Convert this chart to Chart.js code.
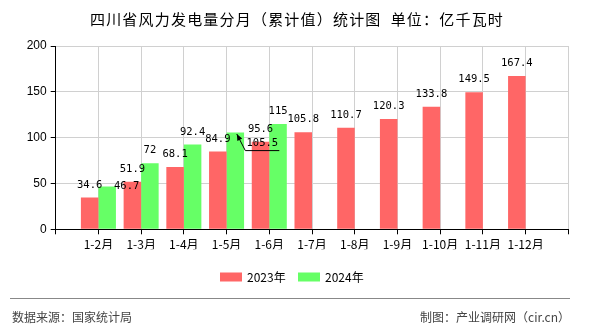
<!DOCTYPE html>
<html>
<head>
<meta charset="utf-8">
<script src="https://cdn.jsdelivr.net/npm/chart.js@4.4.1/dist/chart.umd.min.js"></script>
<style>
  html, body { margin: 0; padding: 0; background: #fff; }
  #wrap { width: 590px; height: 330px; position: relative; }
</style>
</head>
<body>
<div id="wrap"><canvas id="myChart" width="590" height="330"></canvas></div>
<script>
var titleText = '四川省风力发电量分月（累计值）统计图  单位：亿千瓦时';
var sourceText = '数据来源：国家统计局';
var makerText = '制图：产业调研网（cir.cn）';

// blank slots at both ends so each group sits on a grid line
var months = ['', '1-2月', '1-3月', '1-4月', '1-5月', '1-6月', '1-7月', '1-8月', '1-9月', '1-10月', '1-11月', '1-12月', ''];
var values2023 = [null, 34.6, 51.9, 68.1, 84.9, 95.6, 105.8, 110.7, 120.3, 133.8, 149.5, 167.4, null];
var values2024 = [null, 46.7, 72, 92.4, 105.5, 115, null, null, null, null, null, null, null];
var seriesNames = ['2023年', '2024年'];
var seriesColors = ['#ff6666', '#66ff66'];
var yTicks = [0, 50, 100, 150, 200];

var labelFont = '10.5px "DejaVu Sans Mono"';

// value labels above the bars, two of them moved aside
var valueLabels = {
  id: 'valueLabels',
  afterDatasetsDraw: function(chart){
    var ctx = chart.ctx;
    ctx.save();
    ctx.font = labelFont;
    ctx.fillStyle = '#000';
    ctx.textAlign = 'center';
    ctx.textBaseline = 'middle';
    chart.data.datasets.forEach(function(ds, di){
      var meta = chart.getDatasetMeta(di);
      meta.data.forEach(function(bar, i){
        var v = ds.data[i];
        if(v === null || v === undefined) return;
        var txt = String(v);
        if(di === 1 && i === 1){
          ctx.fillText(txt, bar.x + 19.5, bar.y);
        } else if(di === 1 && i === 4){
          var sx = bar.x + 1.5, sy = bar.y + 1.5;
          var ex = bar.x + 10, ey = bar.y + 18;
          ctx.strokeStyle = '#000';
          ctx.lineWidth = 1;
          ctx.beginPath();
          ctx.moveTo(sx, sy);
          ctx.lineTo(ex, ey);
          ctx.lineTo(bar.x + 44, ey);
          ctx.stroke();
          // arrow head
          var a = Math.atan2(sy - ey, sx - ex);
          ctx.beginPath();
          ctx.moveTo(sx, sy);
          ctx.lineTo(sx - 7 * Math.cos(a - 0.4), sy - 7 * Math.sin(a - 0.4));
          ctx.lineTo(sx - 7 * Math.cos(a + 0.4), sy - 7 * Math.sin(a + 0.4));
          ctx.closePath();
          ctx.fill();
          ctx.fillText(txt, bar.x + 27, bar.y + 10.5);
        } else {
          ctx.fillText(txt, bar.x, bar.y - 12.7);
        }
      });
    });
    ctx.restore();
  }
};

// title, legend, separator and footer
var frame = {
  id: 'frame',
  afterDraw: function(chart){
    var ctx = chart.ctx;
    ctx.save();
    ctx.fillStyle = '#000';
    ctx.textBaseline = 'middle';
    ctx.textAlign = 'center';
    ctx.font = '15px "Noto Sans CJK SC"';
    ctx.letterSpacing = '1.2px';
    ctx.fillText(titleText, 297, 19);
    ctx.letterSpacing = '0px';

    ctx.font = '12px "Noto Sans CJK SC"';
    ctx.textAlign = 'left';
    var lx = [220, 298];
    for(var k = 0; k < seriesNames.length; k++){
      ctx.fillStyle = seriesColors[k];
      ctx.fillRect(lx[k], 272.5, 22, 9);
      ctx.fillStyle = '#000';
      ctx.fillText(seriesNames[k], lx[k] + 27, 277);
    }

    ctx.strokeStyle = '#888';
    ctx.lineWidth = 1;
    ctx.beginPath();
    ctx.moveTo(10, 298.5);
    ctx.lineTo(570, 298.5);
    ctx.stroke();

    ctx.fillStyle = '#444';
    ctx.font = '12px "Noto Sans CJK SC"';
    ctx.textAlign = 'left';
    ctx.fillText(sourceText, 12, 317);
    ctx.textAlign = 'right';
    ctx.fillText(makerText, 570, 317);
    ctx.restore();
  }
};

window.onload = function(){
  var ctx = document.getElementById('myChart').getContext('2d');
  new Chart(ctx, {
    type: 'bar',
    data: {
      labels: months,
      datasets: [
        { label: seriesNames[0], data: values2023, backgroundColor: seriesColors[0] },
        { label: seriesNames[1], data: values2024, backgroundColor: seriesColors[1] }
      ]
    },
    options: {
      responsive: false,
      animation: false,
      events: [],
      layout: { padding: { top: 46, right: 21.7, bottom: 80.7, left: 0 } },
      datasets: { bar: { categoryPercentage: 0.82, barPercentage: 1 } },
      plugins: { legend: { display: false }, title: { display: false }, tooltip: { enabled: false } },
      scales: {
        x: {
          offset: false,
          grid: { offset: false, color: '#d0d0d0', tickColor: '#000', tickLength: 5 },
          border: { color: '#000', width: 1 },
          ticks: {
            autoSkip: false, maxRotation: 0, padding: 3, color: '#000',
            font: { family: '"Noto Sans CJK SC"', size: 12 }
          },
          afterFit: function(scale){ scale.height = 20; }
        },
        y: {
          min: 0, max: 200,
          afterBuildTicks: function(scale){ scale.ticks = yTicks.map(function(v){ return { value: v }; }); },
          grid: { color: '#d0d0d0', tickColor: '#000', tickLength: 5 },
          border: { color: '#000', width: 1 },
          ticks: { padding: 4, color: '#000', font: { family: 'Arial, "Liberation Sans"', size: 12 } },
          afterFit: function(scale){ scale.width = 55.7; }
        }
      }
    },
    plugins: [valueLabels, frame]
  });
};
</script>
</body>
</html>
